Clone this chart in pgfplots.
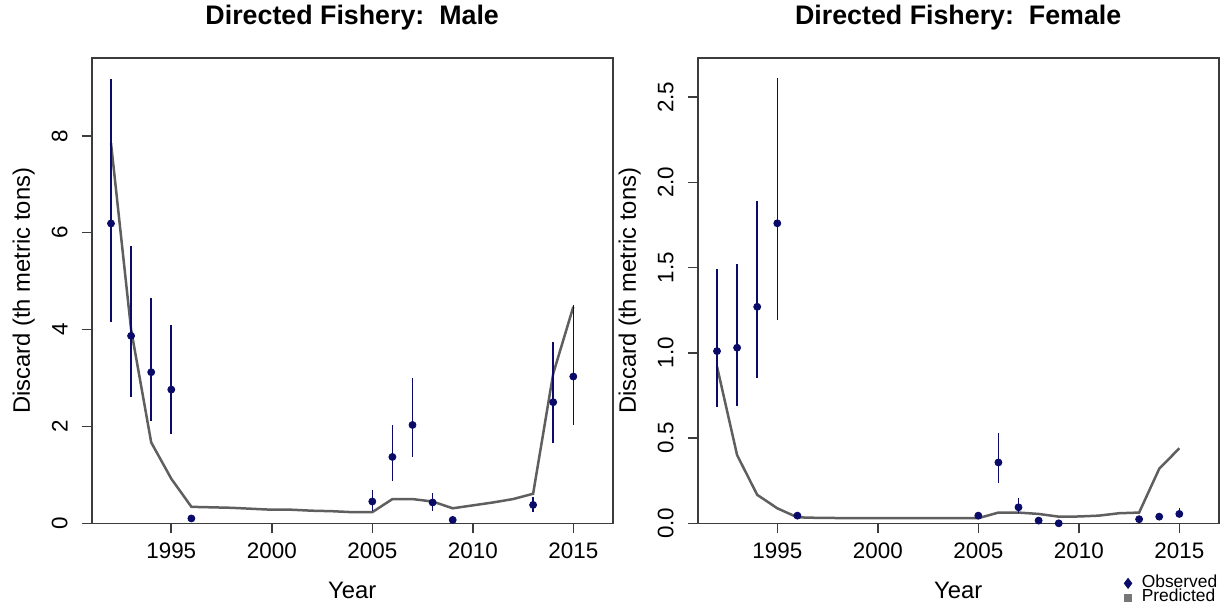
\documentclass[border=0pt]{standalone}
\usepackage{pgfplots}
\pgfplotsset{compat=1.18}
\usepackage{pgfplotstable}
\usepackage{fontspec}
\setmainfont{Liberation Sans}
\definecolor{obs}{RGB}{10,10,105}
\definecolor{pred}{RGB}{95,95,95}
\definecolor{frm}{RGB}{60,60,60}

\pgfplotstableread{
x y ep em
1992 6.19 2.98 2.03
1993 3.87 1.85 1.27
1994 3.12 1.53 1.01
1995 2.76 1.33 0.91
1996 0.10 0 0
2005 0.45 0.24 0.19
2006 1.37 0.65 0.49
2007 2.03 0.98 0.67
2008 0.43 0.20 0.18
2009 0.07 0 0
2013 0.38 0.16 0.15
2014 2.50 1.24 0.84
2015 3.03 1.48 1.01
}\maleobs

\pgfplotstableread{
x y
1992 7.85
1993 4.00
1994 1.67
1995 0.92
1996 0.34
1997 0.33
1998 0.32
1999 0.30
2000 0.28
2001 0.28
2002 0.26
2003 0.25
2004 0.23
2005 0.23
2006 0.50
2007 0.50
2008 0.45
2009 0.31
2010 0.37
2011 0.43
2012 0.50
2013 0.61
2014 3.09
2015 4.47
}\malepred

\pgfplotstableread{
x y ep em
1992 1.01 0.48 0.33
1993 1.03 0.49 0.34
1994 1.27 0.62 0.42
1995 1.76 0.85 0.57
1996 0.045 0 0
2005 0.045 0 0
2006 0.357 0.173 0.122
2007 0.094 0.053 0.035
2008 0.016 0 0
2009 0.0 0 0
2013 0.024 0 0
2014 0.039 0 0
2015 0.055 0.033 0.02
}\femobs

\pgfplotstableread{
x y
1992 0.92
1993 0.40
1994 0.167
1995 0.088
1996 0.035
1997 0.032
1998 0.031
1999 0.031
2000 0.030
2001 0.030
2002 0.030
2003 0.030
2004 0.030
2005 0.030
2006 0.063
2007 0.063
2008 0.055
2009 0.039
2010 0.040
2011 0.045
2012 0.059
2013 0.063
2014 0.32
2015 0.44
}\fempred

\pgfplotsset{rstyle/.style={
  scale only axis, width=260.5pt, height=232.5pt,
  xmin=1991.04, xmax=2016.96, ymin=0,
  xtick={1995,2000,2005,2010,2015},
  xticklabels={1995,2000,2005,2010,2015},
  tick pos=left, tick align=outside, major tick length=5pt,
  tick style={frm, line width=0.8pt},
  axis line style={frm, line width=0.8pt},
  /pgf/number format/assume math mode=true,
  ticklabel style={font=\fontsize{11.2}{12}\selectfont},
  yticklabel style={rotate=90, anchor=south},
  yticklabel shift=3.5pt,
  xticklabel shift=1.2pt,
  label style={font=\fontsize{11.9}{13}\selectfont},
  xlabel={Year},
  xlabel style={at={(axis description cs:0.5,-0.144)}, anchor=center},
  ylabel={Discard (th metric tons)},
  ylabel style={at={(axis description cs:-0.1305,0.5)}, anchor=center},
  every axis title shift=0pt,
  title style={at={(axis description cs:0.5,1.0867)}, anchor=center, font=\bfseries\fontsize{13.4}{15}\selectfont},
  clip=false,
  anchor=south west,
}}

\begin{document}
\begin{tikzpicture}
\useasboundingbox (0,0) rectangle (612.5pt,303pt);
\begin{axis}[rstyle, at={(45.85pt,41.35pt)}, ymax=9.6,
  ytick={0,2,4,6,8}, yticklabels={0,2,4,6,8},
  title={Directed Fishery:\ \ Male}]
\addplot[pred, line width=1.25pt] table[x=x,y=y] {\malepred};
\addplot[obs, only marks, mark=*, mark size=1.75pt,
  error bars/.cd, y dir=both, y explicit, error mark=none,
  error bar style={obs, line width=0.8pt}]
  table[x=x, y=y, y error plus=ep, y error minus=em] {\maleobs};
\end{axis}
\begin{axis}[rstyle, at={(348.85pt,41.35pt)}, ymax=2.728,
  ytick={0,0.5,1,1.5,2,2.5}, yticklabels={0.0,0.5,1.0,1.5,2.0,2.5},
  title={Directed Fishery:\ \ Female},
  legend style={at={(axis description cs:0.818,-0.1133)}, anchor=north west,
    draw=none, fill=none, inner sep=0pt, row sep=0.3pt, column sep=5pt,
    font=\fontsize{8.7}{8}\selectfont,
    nodes={inner sep=0pt, text height=5.5pt, text depth=1.5pt}},
  legend cell align=left,
  legend image code/.code={\draw[#1] plot coordinates {(0pt,0pt)};}]
\addlegendimage{only marks, mark=diamond*, mark size=2.5pt, obs}
\addlegendimage{only marks, mark=square*, mark size=1.7pt, pred!85}
\addplot[pred, line width=1.25pt, forget plot] table[x=x,y=y] {\fempred};
\addplot[obs, only marks, mark=*, mark size=1.75pt, forget plot,
  error bars/.cd, y dir=both, y explicit, error mark=none,
  error bar style={obs, line width=0.8pt}]
  table[x=x, y=y, y error plus=ep, y error minus=em] {\femobs};
\legend{Observed, Predicted}
\end{axis}
\end{tikzpicture}
\end{document}
